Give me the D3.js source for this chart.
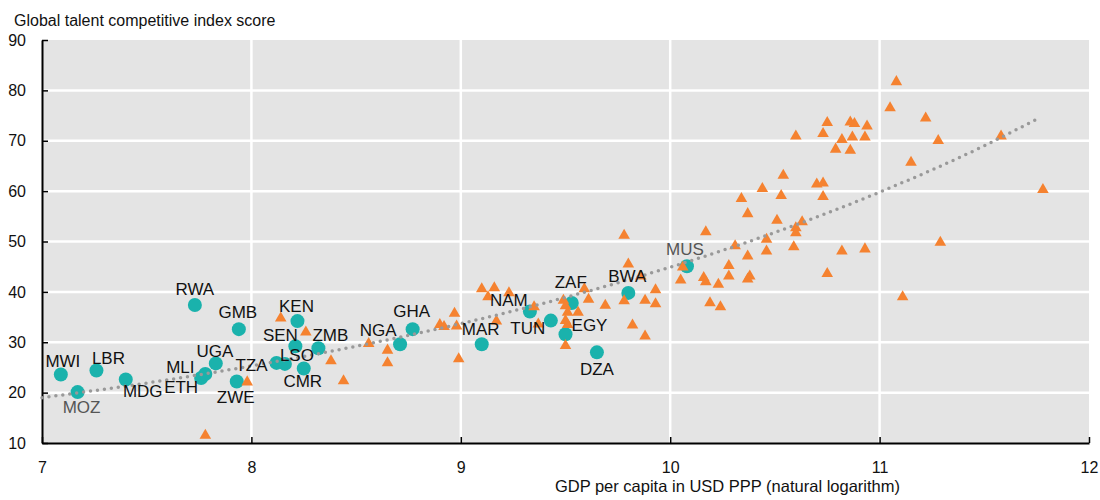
<!DOCTYPE html>
<html>
<head>
<meta charset="utf-8">
<script src="https://cdn.jsdelivr.net/npm/d3@7"></script>
<style>
  body { margin: 0; background: #fff; }
  svg { display: block; font-family: "Liberation Sans", Arial, Helvetica, sans-serif; }
</style>
</head>
<body>
<svg id="chart"></svg>
<script>
// DATA //

// african countries (teal dots, labelled)
const africaCodes = ['MWI','MOZ','LBR','MDG','RWA','ETH','MLI','UGA','GMB','ZWE','TZA','LSO','SEN','KEN','CMR','ZMB','NGA','GHA','MAR','NAM','TUN','EGY','ZAF','DZA','BWA','MUS']
const africaGdp   = [7.09, 7.17, 7.26, 7.40, 7.73, 7.76, 7.78, 7.83, 7.94, 7.93, 8.12, 8.16, 8.21, 8.22, 8.25, 8.32, 8.71, 8.77, 9.10, 9.33, 9.43, 9.50, 9.53, 9.65, 9.80, 10.08]
const africaScore = [23.6, 20.1, 24.4, 22.6, 37.4, 22.9, 23.7, 25.8, 32.6, 22.2, 25.9, 25.7, 29.2, 34.2, 24.8, 28.8, 29.6, 32.6, 29.6, 36.1, 34.3, 31.6, 37.8, 28.0, 39.8, 45.1]

// rest of the world (orange triangles)
const otherGdp = [
  7.78, 7.98, 8.14, 8.26, 8.38, 8.44, 8.56, 8.65, 8.65, 8.90, 8.92, 8.97, 8.98, 8.99,
  9.10, 9.16, 9.13, 9.23, 9.17, 9.35, 9.37, 9.49, 9.50, 9.51, 9.50, 9.51, 9.50, 9.56, 9.59, 9.61, 9.69,
  9.78, 9.80, 9.86, 9.78, 9.82, 9.88, 9.88, 9.93, 9.93,
  10.06, 10.05, 10.17, 10.16, 10.17, 10.23, 10.19, 10.24, 10.31, 10.28, 10.28, 10.37, 10.38, 10.37, 10.37,
  10.34, 10.44, 10.46, 10.46, 10.51, 10.53, 10.54, 10.59, 10.60, 10.60, 10.63, 10.60, 10.70, 10.73, 10.73,
  10.73, 10.75, 10.75, 10.79, 10.82, 10.82, 10.86, 10.88, 10.87, 10.86, 10.93, 10.94, 10.93,
  11.05, 11.08, 11.11, 11.15, 11.22, 11.28, 11.29, 11.58, 11.78
]
const otherScore = [
  11.7, 22.3, 35.0, 32.2, 26.5, 22.5, 29.9, 28.6, 26.1, 33.7, 33.3, 35.9, 33.4, 26.9,
  40.8, 41.0, 39.2, 40.0, 34.4, 37.2, 33.8, 38.5, 37.4, 36.1, 34.5, 33.7, 29.5, 36.1, 40.8, 38.7, 37.5,
  51.4, 45.7, 43.3, 38.4, 33.6, 38.5, 31.4, 40.6, 37.8,
  45.1, 42.5, 52.1, 43.0, 42.2, 41.7, 38.0, 37.2, 49.3, 45.4, 43.3, 55.7, 43.3, 42.7, 47.3,
  58.7, 60.7, 50.6, 48.3, 54.4, 59.3, 63.3, 49.1, 52.9, 51.9, 54.1, 71.1, 61.6, 61.8, 59.1,
  71.6, 73.8, 43.8, 68.5, 70.4, 48.3, 73.9, 73.6, 70.9, 68.3, 70.9, 73.1, 48.7,
  76.7, 81.9, 39.2, 65.9, 74.7, 70.2, 50.0, 71.1, 60.5
]

// trend line
const trendGdp   = [7.0, 7.5, 8.0, 8.5, 9.0, 9.5, 10.0, 10.5, 11.0, 11.5, 11.76]
const trendScore = [19.0, 21.9, 25.3, 29.2, 33.7, 38.9, 44.9, 51.8, 59.8, 69.0, 74.5]

const xTicks = [7, 8, 9, 10, 11, 12]
const yTicks = [10, 20, 30, 40, 50, 60, 70, 80, 90]

// label placement, pixels from the dot (dx, dy)
const labelOffsets = {
  MWI:[2,-7], MOZ:[4,21], LBR:[12,-6], MDG:[17,17], RWA:[0,-10], ETH:[-20,15], MLI:[-25,-1],
  UGA:[-1,-6], GMB:[-1,-11], ZWE:[-1,21], TZA:[-25,8], LSO:[12,-3], SEN:[-15,-5], KEN:[-1,-9],
  CMR:[-1,19], ZMB:[12,-7], NGA:[-22,-8], GHA:[-1,-12], MAR:[-1,-9], NAM:[-21,-6], TUN:[-23,13],
  EGY:[24,-3], ZAF:[-1,-15], DZA:[0,23], BWA:[-1,-11], MUS:[-2,-11]
}
const greyLabels = ['MOZ', 'MUS']

// DRAW //

function drawChart(){
    const W = 1100, H = 500
    const margin = {top: 40, right: 11, bottom: 57, left: 42}

    const svg = d3.select('#chart')
                  .attr('width', W)
                  .attr('height', H)

    const x = d3.scaleLinear().domain([7, 12]).range([margin.left, W - margin.right])
    const y = d3.scaleLinear().domain([10, 90]).range([H - margin.bottom, margin.top])

    // plot background
    svg.append('rect')
       .attr('x', x(7)).attr('y', y(90))
       .attr('width', x(12) - x(7))
       .attr('height', y(10) - y(90))
       .attr('fill', '#e4e4e4')

    // grid
    svg.append('g').selectAll('line')
       .data(yTicks.filter(d => d > 10 && d < 90))
       .enter().append('line')
       .attr('x1', x(7)).attr('x2', x(12))
       .attr('y1', d => y(d)).attr('y2', d => y(d))
       .attr('stroke', '#fff').attr('stroke-width', 2.5)

    svg.append('g').selectAll('line')
       .data(xTicks.filter(d => d > 7 && d < 12))
       .enter().append('line')
       .attr('y1', y(10)).attr('y2', y(90))
       .attr('x1', d => x(d)).attr('x2', d => x(d))
       .attr('stroke', '#fff').attr('stroke-width', 2.5)

    // axes
    const gx = svg.append('g')
       .attr('transform', `translate(0,${y(10)})`)
       .call(d3.axisBottom(x).tickValues(xTicks).tickFormat(d3.format('d'))
               .tickSize(-6).tickSizeOuter(0).tickPadding(19))
    const gy = svg.append('g')
       .attr('transform', `translate(${x(7)},0)`)
       .call(d3.axisLeft(y).tickValues(yTicks).tickFormat(d3.format('d'))
               .tickSize(-6).tickSizeOuter(0).tickPadding(16))

    for (const g of [gx, gy]) {
        g.attr('font-family', null).attr('font-size', null)
        g.selectAll('text').attr('font-size', 16).attr('fill', '#111')
        g.selectAll('line').attr('stroke', '#000').attr('stroke-width', 1.5)
        g.select('.domain').attr('stroke', '#000').attr('stroke-width', 2)
    }

    // axis titles
    svg.append('text')
       .attr('x', 14).attr('y', 26)
       .attr('font-size', 16).attr('fill', '#111')
       .text('Global talent competitive index score')

    svg.append('text')
       .attr('x', 900).attr('y', 492)
       .attr('text-anchor', 'end')
       .attr('font-size', 16.5).attr('fill', '#111')
       .text('GDP per capita in USD PPP (natural logarithm)')

    // african dots
    svg.append('g').selectAll('circle')
       .data(africaCodes)
       .enter().append('circle')
       .attr('cx', (d, i) => x(africaGdp[i]))
       .attr('cy', (d, i) => y(africaScore[i]))
       .attr('r', 7)
       .attr('fill', '#1ab2ac')

    // other countries
    const tri = d3.symbol().type(d3.symbolTriangle).size(58)
    svg.append('g').selectAll('path')
       .data(otherGdp)
       .enter().append('path')
       .attr('d', tri)
       .attr('transform', (d, i) => `translate(${x(d)},${y(otherScore[i]) + 1})`)
       .attr('fill', '#f58230')

    // trend line
    const line = d3.line()
                   .x((d, i) => x(d))
                   .y((d, i) => y(trendScore[i]))
                   .curve(d3.curveMonotoneX)
    svg.append('path')
       .datum(trendGdp)
       .attr('d', line)
       .attr('fill', 'none')
       .attr('stroke', '#999')
       .attr('stroke-width', 3.5)
       .attr('stroke-linecap', 'round')
       .attr('stroke-dasharray', '0 7')

    // labels on top
    svg.append('g').selectAll('text')
       .data(africaCodes)
       .enter().append('text')
       .attr('x', (d, i) => x(africaGdp[i]) + labelOffsets[d][0])
       .attr('y', (d, i) => y(africaScore[i]) + labelOffsets[d][1])
       .attr('text-anchor', 'middle')
       .attr('font-size', 17)
       .attr('fill', d => greyLabels.includes(d) ? '#555' : '#111')
       .text(d => d)
}

drawChart()
</script>
</body>
</html>
